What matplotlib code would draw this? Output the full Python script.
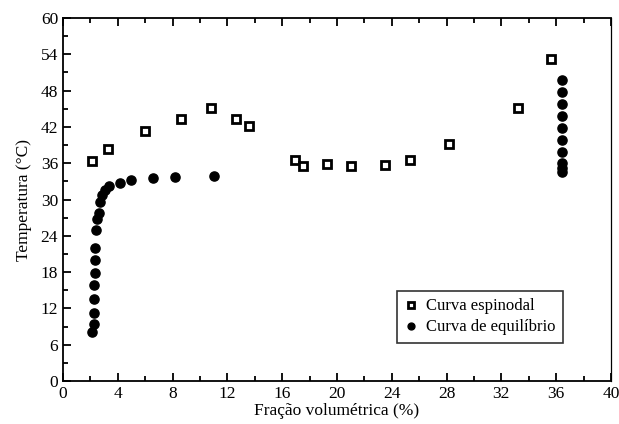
import matplotlib
matplotlib.use("Agg")
import matplotlib.pyplot as plt
from matplotlib.ticker import MultipleLocator

plt.rcParams['font.family'] = ['Liberation Serif', 'DejaVu Serif']

espinodal_x = [2.14, 3.26, 5.96, 8.59, 10.8, 12.6, 13.58, 16.9, 17.5, 19.3, 21.0, 23.5, 25.3, 28.2, 33.2, 35.6]
espinodal_y = [36.4, 38.3, 41.4, 43.3, 45.1, 43.3, 42.1, 36.5, 35.6, 35.8, 35.6, 35.7, 36.5, 39.2, 45.2, 53.2]

equilibrio_x = [2.12, 2.26, 2.26, 2.26, 2.26, 2.3, 2.3, 2.3, 2.41, 2.5, 2.63, 2.7, 2.85, 3.04, 3.36,
                4.16, 4.96, 6.6, 8.2, 11.0,
                36.4, 36.4, 36.4, 36.4, 36.4, 36.4, 36.4, 36.4, 36.4, 36.4]
equilibrio_y = [8.05, 9.5, 11.3, 13.55, 15.9, 17.9, 20.0, 22.0, 24.9, 26.7, 27.8, 29.6, 30.7, 31.5, 32.3,
                32.8, 33.2, 33.5, 33.7, 33.9,
                49.75, 47.8, 45.8, 43.8, 41.9, 39.9, 37.85, 35.98, 35.15, 34.6]

x_ticks = list(range(0, 41, 4))
y_ticks = list(range(0, 61, 6))

fig = plt.figure(figsize=(6.19, 4.24), dpi=100)
ax = fig.add_axes([0.1018, 0.1014, 0.8852, 0.8561])

ax.plot(espinodal_x, espinodal_y, linestyle='none', marker='s', markersize=5.2,
        markerfacecolor='white', markeredgecolor='black', markeredgewidth=2.0,
        label='Curva espinodal')
ax.plot(equilibrio_x, equilibrio_y, linestyle='none', marker='o', markersize=6.6,
        color='black', label='Curva de equilíbrio')

ax.set_xlim(0, 40)
ax.set_ylim(0, 60)
ax.set_xticks(x_ticks)
ax.set_yticks(y_ticks)
ax.xaxis.set_minor_locator(MultipleLocator(2))
ax.yaxis.set_minor_locator(MultipleLocator(3))
ax.tick_params(which='both', direction='in', top=True, right=False, labelsize=12.5, width=1.3)
ax.tick_params(which='major', length=6)
ax.tick_params(which='minor', length=3.5)
for s in ax.spines.values():
    s.set_linewidth(1.3)
ax.spines['right'].set_linewidth(0.9)

ax.set_xlabel('Fração volumétrica (%)', fontsize=12.5, labelpad=1)
ax.set_ylabel('Temperatura (°C)', fontsize=12.5, labelpad=6)

leg = ax.legend(loc='lower left', bbox_to_anchor=(0.609, 0.105), borderaxespad=0, fontsize=12,
                frameon=True, fancybox=False, edgecolor='black', handlelength=0.8,
                handletextpad=0.5, borderpad=0.45, labelspacing=0.3, markerscale=0.75)
leg.get_frame().set_linewidth(1.2)

fig.savefig('out.png', dpi=100)
